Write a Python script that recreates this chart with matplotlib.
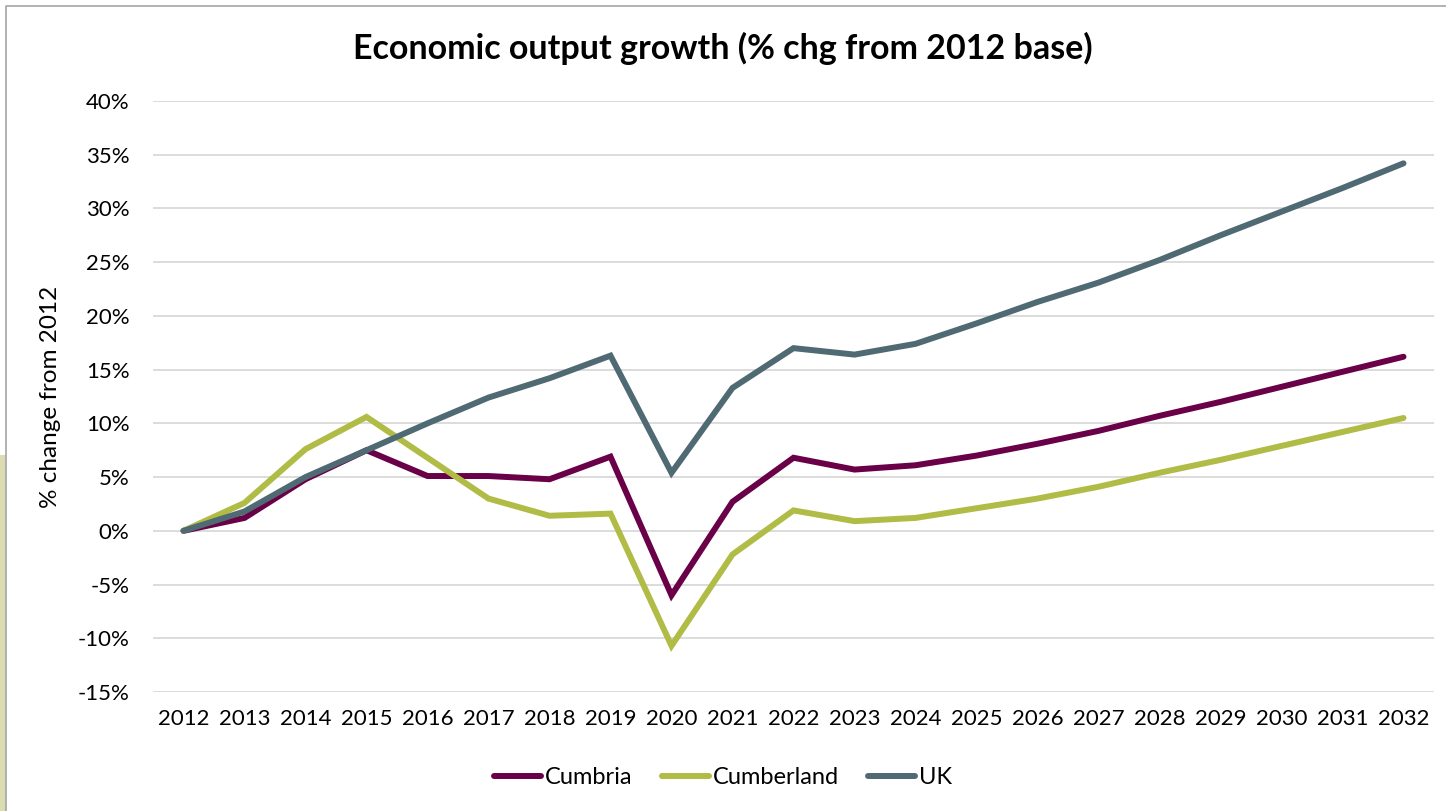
import matplotlib.pyplot as plt
from matplotlib.ticker import FuncFormatter
from matplotlib.lines import Line2D
from matplotlib.patches import Rectangle

plt.rcParams['font.family'] = ['Lato', 'DejaVu Sans']

years = list(range(2012, 2033))

cumbria = [0.0, 1.2, 4.8, 7.5, 5.1, 5.1, 4.8, 6.9, -6.0, 2.7, 6.8,
           5.7, 6.1, 7.0, 8.1, 9.3, 10.7, 12.0, 13.4, 14.8, 16.2]
cumberland = [0.0, 2.6, 7.6, 10.6, 6.8, 3.0, 1.4, 1.6, -10.7, -2.2, 1.9,
              0.9, 1.2, 2.1, 3.0, 4.1, 5.4, 6.6, 7.9, 9.2, 10.5]
uk = [0.0, 1.8, 5.0, 7.5, 10.0, 12.4, 14.2, 16.3, 5.4, 13.3, 17.0,
      16.4, 17.4, 19.3, 21.3, 23.1, 25.2, 27.5, 29.7, 31.9, 34.2]

series = [
    ('Cumbria', cumbria, '#6a0047'),
    ('Cumberland', cumberland, '#b0bc45'),
    ('UK', uk, '#4f6a72'),
]

W, H = 1446, 811
fig = plt.figure(figsize=(W / 100, H / 100), dpi=100)
ax = fig.add_axes([153 / W, 1 - 692 / H, (1434 - 153) / W, (692 - 101) / H])

for name, vals, col in series:
    ax.plot(years, vals, color=col, lw=4.3, solid_capstyle='round',
            solid_joinstyle='miter', label=name, zorder=3)

ax.set_xlim(2011.5, 2032.5)
ax.set_ylim(-15, 40)
ax.set_yticks(range(-15, 41, 5))
ax.set_xticks(years)
ax.yaxis.set_major_formatter(FuncFormatter(lambda v, p: f'{v:.0f}%'))
ax.grid(axis='y', color='#d9d9d9', lw=1.3)
ax.set_axisbelow(True)
for s in ax.spines.values():
    s.set_visible(False)
ax.tick_params(length=0, labelsize=16, colors='black')
ax.tick_params(axis='x', pad=12)
ax.tick_params(axis='y', pad=17)

ax.set_ylabel('% change from 2012', fontsize=17.5, labelpad=12)
fig.text(0.5, 1 - 48 / H, 'Economic output growth (% chg from 2012 base)',
         ha='center', va='center', fontsize=24.5, fontweight='bold')

handles = [Line2D([], [], color=c, lw=4.3, solid_capstyle='round') for _, _, c in series]
fig.legend(handles, [n for n, _, _ in series], loc='center',
           bbox_to_anchor=(0.5, 1 - 778 / H), ncol=3, frameon=False,
           fontsize=17, handlelength=2.0, handletextpad=0.15, columnspacing=1.25)

# chart area border and side strip
fig.add_artist(Rectangle((0, 0), 6 / W, 1 - 455 / H, transform=fig.transFigure,
                         facecolor='#dcdcb2', edgecolor='none'))
fig.add_artist(Line2D([6 / W, 6 / W, 1], [0, 1 - 6 / H, 1 - 6 / H],
                      transform=fig.transFigure, color='#a6a6a6', lw=1.2))

fig.savefig('out.png', dpi=100)
